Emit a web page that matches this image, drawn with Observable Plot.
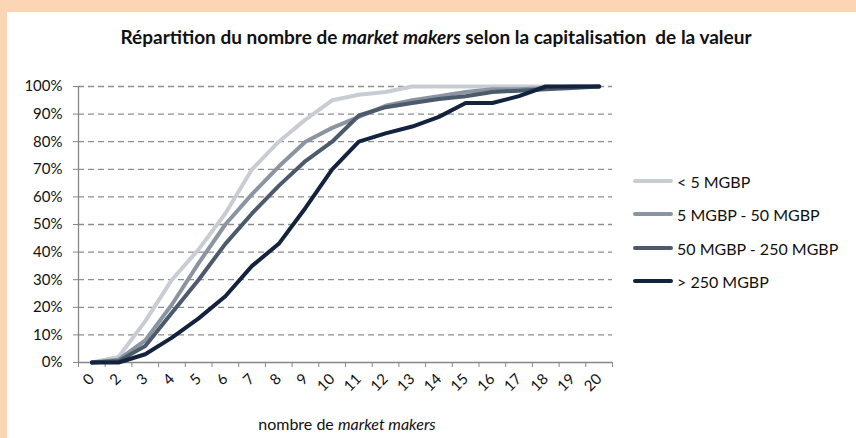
<!DOCTYPE html>
<html><head><meta charset="utf-8">
<script src="https://cdn.jsdelivr.net/npm/d3@7"></script>
<script src="https://cdn.jsdelivr.net/npm/@observablehq/plot@0.6"></script>
<style>
html,body{margin:0;padding:0;}
body{width:856px;height:438px;background:#fcd5b4;position:relative;overflow:hidden;font-family:Lato,"Open Sans",sans-serif;color:#111;}
#panel{position:absolute;left:7px;top:12px;right:0;bottom:0;background:#fff;}
#chart{position:absolute;left:0;top:0;}
#chart svg{background:none !important;}
#title{position:absolute;left:0;top:26px;width:872px;text-align:center;font-weight:bold;font-size:19px;line-height:22px;}
#xlabel{position:absolute;left:0;top:414px;width:694px;text-align:center;font-size:16px;line-height:19px;}
.leg{position:absolute;left:633px;height:20px;display:flex;align-items:center;font-size:16px;white-space:nowrap;}
.leg .sw{width:40px;height:4px;border-radius:2px;margin-right:4px;}
</style>
</head><body>
<div id="panel"></div>
<div id="chart"></div>
<div id="title">Répartition du nombre de <i>market makers</i> selon la capitalisation&nbsp; de la valeur</div>
<div id="xlabel">nombre de <i>market makers</i></div>
<div id="legend"></div>
<script>
const categories = ["0","2","3","4","5","6","7","8","9","10","11","12","13","14","15","16","17","18","19","20"];
const seriesNames = ["< 5 MGBP", "5 MGBP - 50 MGBP", "50 MGBP - 250 MGBP", "> 250 MGBP"];
const lt5     = [0, 2, 15, 30, 41, 54, 70, 80, 88, 95, 97, 98, 100, 100, 100, 100, 100, 100, 100, 100];
const m5_50   = [0, 1, 8, 21, 36, 50, 61, 71, 80, 85, 89, 93, 95, 96.5, 98, 99, 99, 99.5, 100, 100];
const m50_250 = [0, 0.5, 6, 18, 30, 43, 54, 64, 73, 80, 89.5, 92.5, 94, 95.5, 96.5, 98, 98.5, 99, 99.5, 100];
const gt250   = [0, 0, 3, 9, 16, 24, 35, 43, 56, 70, 80, 83, 85.5, 89, 94, 94, 96.5, 100, 100, 100];
const yTicks  = [0, 0.1, 0.2, 0.3, 0.4, 0.5, 0.6, 0.7, 0.8, 0.9, 1];
const colors  = ["#c8cdd3", "#8a95a1", "#4c5a6c", "#13223d"];

const allSeries = [lt5, m5_50, m50_250, gt250];
const rows = [];
allSeries.forEach((vals, s) => vals.forEach((v, i) => rows.push({i, cat: categories[i], v: v / 100, series: seriesNames[s]})));

const n = categories.length;
const xDomain = [-0.5, n - 0.5];
const axisGray = "#878787";

const chart = Plot.plot({
  width: 856, height: 438,
  marginLeft: 78, marginRight: 244, marginTop: 86, marginBottom: 76,
  style: {fontFamily: "Lato, 'Open Sans', sans-serif", background: "none"},
  x: {type: "linear", domain: xDomain},
  y: {domain: [0, 1]},
  color: {domain: seriesNames, range: colors},
  marks: [
    Plot.ruleY(yTicks.filter(v => v > 0), {stroke: "#8e8e8e", strokeDasharray: "6,4", strokeWidth: 1.3}),
    Plot.ruleY([0], {stroke: axisGray, strokeWidth: 1.3}),
    Plot.ruleX([xDomain[0]], {stroke: axisGray, strokeWidth: 1.3}),
    Plot.axisY({ticks: yTicks, tickFormat: d3.format(".0%"), tickSize: 5, tickPadding: 11, stroke: axisGray, fill: "#111", fontSize: 15, label: null}),
    Plot.axisX({ticks: d3.range(n + 1).map(i => i - 0.5), tickSize: 5, tickFormat: () => "", stroke: axisGray, label: null}),
    Plot.axisX({ticks: d3.range(n), tickSize: 0, tickPadding: 14, tickFormat: i => categories[i], tickRotate: -45, fill: "#111", fontSize: 15, label: null}),
    Plot.line(rows, {x: "i", y: "v", z: "series", stroke: "series", strokeWidth: 4, strokeLinejoin: "round", strokeLinecap: "round"})
  ]
});
document.getElementById("chart").appendChild(chart);

const leg = document.getElementById("legend");
const legTops = [171, 204, 238, 271];
seriesNames.forEach((name, k) => {
  const d = document.createElement("div");
  d.className = "leg";
  d.style.top = legTops[k] + "px";
  const sw = document.createElement("span");
  sw.className = "sw";
  sw.style.background = colors[k];
  const t = document.createElement("span");
  t.textContent = name;
  d.appendChild(sw); d.appendChild(t);
  leg.appendChild(d);
});
</script>
</body></html>
